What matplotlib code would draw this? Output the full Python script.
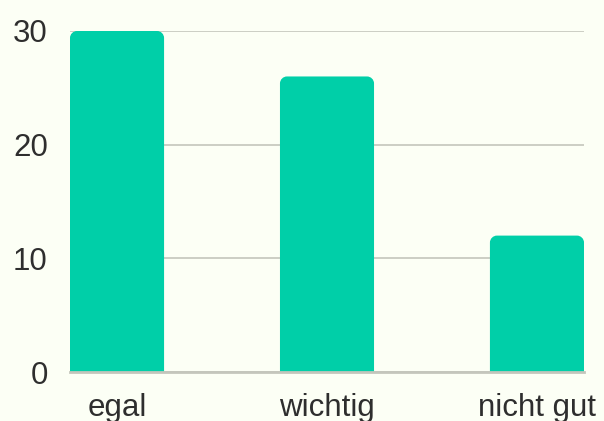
import matplotlib
matplotlib.use("Agg")
import matplotlib.pyplot as plt
from matplotlib.path import Path
from matplotlib.patches import PathPatch

# daten
kategorien = ["egal", "wichtig", "nicht gut"]
werte = [30, 26, 12]
y_ticks = [0, 10, 20, 30]

hintergrund = "#fcfff5"
balken_farbe = "#00cfa8"
gitter_farbe = "#c4c6bc"
text_farbe = "#2e2e2e"

plt.rcParams['font.family'] = ['Liberation Sans', 'DejaVu Sans']

fig = plt.figure(figsize=(6.04, 4.21), dpi=100, facecolor=hintergrund)
ax = fig.add_axes([70 / 604, 1 - 372 / 421, 514 / 604, 341 / 421])
ax.set_facecolor(hintergrund)

x = list(range(len(kategorien)))
balken = ax.bar(x, werte, width=0.448, color=balken_farbe, zorder=3)
ax.set_xlim(-0.224, len(kategorien) - 1 + 0.224)
ax.set_ylim(0, 30)

# balken mit runden ecken oben ersetzen
fig.canvas.draw()
px_x = ax.transData.transform((1, 0))[0] - ax.transData.transform((0, 0))[0]
px_y = ax.transData.transform((0, 1))[1] - ax.transData.transform((0, 0))[1]
r = 7
rx = r / px_x
ry = r / px_y
k = 0.5523
for b in balken:
    x0 = b.get_x()
    x1 = x0 + b.get_width()
    h = b.get_height()
    verts = [
        (x0, 0), (x0, h - ry),
        (x0, h - ry + k * ry), (x0 + rx - k * rx, h), (x0 + rx, h),
        (x1 - rx, h),
        (x1 - rx + k * rx, h), (x1, h - ry + k * ry), (x1, h - ry),
        (x1, 0), (x0, 0),
    ]
    codes = [Path.MOVETO, Path.LINETO,
             Path.CURVE4, Path.CURVE4, Path.CURVE4,
             Path.LINETO,
             Path.CURVE4, Path.CURVE4, Path.CURVE4,
             Path.LINETO, Path.CLOSEPOLY]
    ax.add_patch(PathPatch(Path(verts, codes), facecolor=balken_farbe,
                           edgecolor="none", zorder=3))
    b.set_visible(False)

ax.set_yticks(y_ticks)
ax.set_xticks(x)
ax.set_xticklabels(kategorien)
ax.tick_params(axis="both", length=0, labelsize=22.5, colors=text_farbe)
ax.tick_params(axis="y", pad=16)
ax.tick_params(axis="x", pad=15)

ax.grid(axis="y", color=gitter_farbe, linewidth=1.2, zorder=1)
ax.set_axisbelow(True)
for s in ["top", "right", "left"]:
    ax.spines[s].set_visible(False)
ax.spines["bottom"].set_color(gitter_farbe)
ax.spines["bottom"].set_linewidth(2)
ax.spines["bottom"].set_zorder(4)

fig.savefig("out.png", dpi=100, facecolor=hintergrund)
